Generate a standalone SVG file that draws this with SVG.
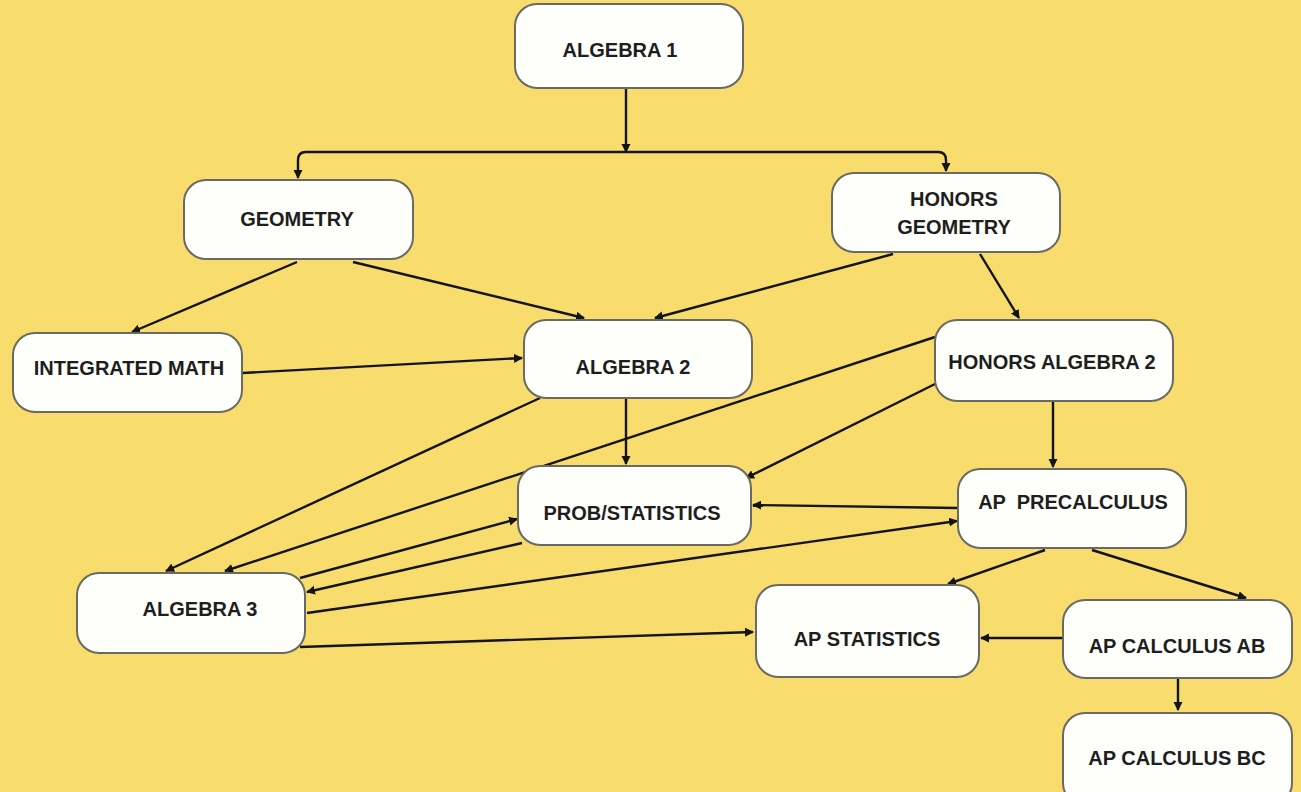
<svg xmlns="http://www.w3.org/2000/svg" width="1301" height="792" viewBox="0 0 1301 792">
<defs>
<style>
.box{fill:#FEFEFB;stroke:#6a6a62;stroke-width:2}
.lbl{font-family:"Liberation Sans",Arial,sans-serif;font-weight:bold;font-size:20px;fill:#1e1e1e;text-anchor:middle;white-space:pre}
.c{fill:none;stroke:#141414;stroke-width:2.4;marker-end:url(#ah)}
</style>
<marker id="ah" markerUnits="userSpaceOnUse" markerWidth="10" markerHeight="10" refX="8" refY="4.5" orient="auto">
<path d="M0,0 L9,4.5 L0,9 z" fill="#141414"/>
</marker>
</defs>
<rect width="1301" height="792" fill="#F8DC6E"/>
<g id="connectors">
<path class="c" d="M626,88 V152"/>
<path class="c" d="M626,152 H306 Q298,152 298,160 V178"/>
<path class="c" d="M626,152 H938 Q946,152 946,160 V171"/>
<path class="c" d="M297,262 L132,332"/>
<path class="c" d="M353,262 L584,318"/>
<path class="c" d="M893,254 L655,318"/>
<path class="c" d="M980,254 L1019,318"/>
<path class="c" d="M243,373 L522,358"/>
<path class="c" d="M540,398 L166,571"/>
<path class="c" d="M626,399 L626,464"/>
<path class="c" d="M935,337 L225,571"/>
<path class="c" d="M935,384 L746,478"/>
<path class="c" d="M1053,402 L1053,467"/>
<path class="c" d="M958,508 L753,505"/>
<path class="c" d="M522,543 L307,592"/>
<path class="c" d="M300,578 L517,519"/>
<path class="c" d="M307,613 L957,521"/>
<path class="c" d="M300,647 L753,632"/>
<path class="c" d="M1045,550 L948,584"/>
<path class="c" d="M1092,550 L1246,598"/>
<path class="c" d="M1063,638 L981,638"/>
<path class="c" d="M1178,679 L1178,710"/>
</g>
<g id="algebra1"><rect class="box" x="515" y="4" width="228" height="84" rx="22"/><text class="lbl" x="620" y="57">ALGEBRA 1</text></g>
<g id="geometry"><rect class="box" x="184" y="180" width="229" height="79" rx="22"/><text class="lbl" x="297" y="226">GEOMETRY</text></g>
<g id="honors-geometry"><rect class="box" x="832" y="173" width="228" height="79" rx="22"/><text class="lbl" x="954" y="206">HONORS</text><text class="lbl" x="954" y="234">GEOMETRY</text></g>
<g id="integrated-math"><rect class="box" x="13" y="333" width="229" height="79" rx="22"/><text class="lbl" x="129" y="375">INTEGRATED MATH</text></g>
<g id="algebra2"><rect class="box" x="524" y="320" width="228" height="78" rx="22"/><text class="lbl" x="633" y="374">ALGEBRA 2</text></g>
<g id="honors-algebra2"><rect class="box" x="935" y="320" width="238" height="81" rx="22"/><text class="lbl" x="1052" y="369">HONORS ALGEBRA 2</text></g>
<g id="prob-statistics"><rect class="box" x="518" y="466" width="233" height="79" rx="22"/><text class="lbl" x="632" y="520">PROB/STATISTICS</text></g>
<g id="ap-precalculus"><rect class="box" x="958" y="469" width="228" height="79" rx="22"/><text class="lbl" x="1073" y="509" xml:space="preserve">AP  PRECALCULUS</text></g>
<g id="algebra3"><rect class="box" x="77" y="573" width="228" height="80" rx="22"/><text class="lbl" x="200" y="616">ALGEBRA 3</text></g>
<g id="ap-statistics"><rect class="box" x="756" y="585" width="223" height="92" rx="22"/><text class="lbl" x="867" y="646">AP STATISTICS</text></g>
<g id="ap-calculus-ab"><rect class="box" x="1063" y="600" width="229" height="78" rx="22"/><text class="lbl" x="1177" y="653">AP CALCULUS AB</text></g>
<g id="ap-calculus-bc"><rect class="box" x="1063" y="713" width="229" height="92" rx="22"/><text class="lbl" x="1177" y="765">AP CALCULUS BC</text></g>
</svg>
